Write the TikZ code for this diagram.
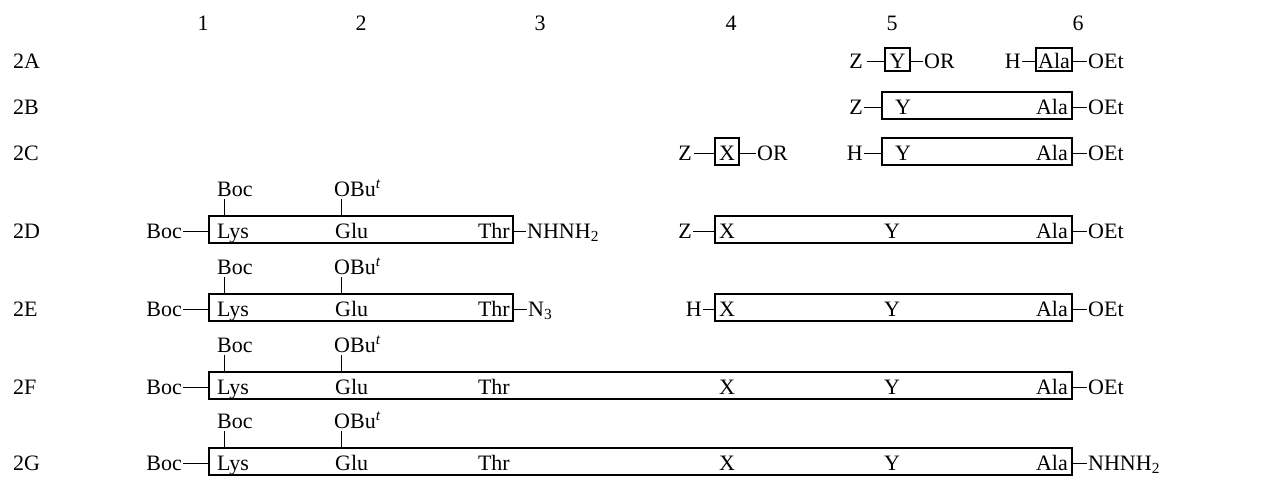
\documentclass[tikz,border=0pt]{standalone}
\usepackage{fontspec}
\setmainfont{Liberation Serif}
\begin{document}
\begin{tikzpicture}[x=1pt,y=-1pt,
  lbl/.style={inner sep=0pt, text height=15pt, text depth=0pt, font=\fontsize{22}{26}\selectfont},
  pbox/.style={draw, line width=1.1pt, inner sep=0pt, minimum height=27pt},
  sbox/.style={pbox, minimum height=23pt},
  bond/.style={line width=1pt},
  tick/.style={line width=0.9pt}]
\useasboundingbox (0,0) rectangle (1261,477);
% column numbers
\node[lbl] (h1) at (203,23) {1};
\node[lbl] (h2) at (361,23) {2};
\node[lbl] (h3) at (540,23) {3};
\node[lbl] (h4) at (731,23) {4};
\node[lbl] (h5) at (892,23) {5};
\node[lbl] (h6) at (1078,23) {6};
% row labels
\node[lbl, anchor=west] (rA) at (13,61) {2A};
\node[lbl, anchor=west] (rB) at (13,107) {2B};
\node[lbl, anchor=west] (rC) at (13,153) {2C};
\node[lbl, anchor=west] (rD) at (13,231) {2D};
\node[lbl, anchor=west] (rE) at (13,309) {2E};
\node[lbl, anchor=west] (rF) at (13,387) {2F};
\node[lbl, anchor=west] (rG) at (13,463) {2G};

% ---------- 2A ----------
\node[lbl, anchor=east] (zA) at (863,61) {Z};
\node[sbox, minimum width=25pt] (bYA) at (897.5,59.5) {};
\node[lbl] (yA) at (897.5,61) {Y};
\node[lbl, anchor=west] (orA) at (924,61) {OR};
\draw[bond] ([xshift=4pt]zA.east) -- (zA.east -| bYA.west);
\draw[bond] (bYA.east |- orA.west) -- ([xshift=-1pt]orA.west);
\node[lbl, anchor=east] (hA) at (1021,61) {H};
\node[sbox, minimum width=36pt] (bAlaA) at (1054,59.5) {};
\node[lbl] (alaA) at (1054,61) {Ala};
\node[lbl, anchor=west] (oetA) at (1088,61) {OEt};
\draw[bond] ([xshift=1pt]hA.east) -- (hA.east -| bAlaA.west);
\draw[bond] (bAlaA.east |- oetA.west) -- ([xshift=-1pt]oetA.west);

% ---------- 2B ----------
\node[lbl, anchor=east] (zB) at (863,107) {Z};
\node[pbox, minimum width=190pt] (bB) at (977,105.5) {};
\node[lbl, anchor=west] (yB) at (895,107) {Y};
\node[lbl, anchor=east] (alaB) at (1068,107) {Ala};
\node[lbl, anchor=west] (oetB) at (1088,107) {OEt};
\draw[bond] ([xshift=1pt]zB.east) -- (zB.east -| bB.west);
\draw[bond] (bB.east |- oetB.west) -- ([xshift=-1pt]oetB.west);

% ---------- 2C ----------
\node[lbl, anchor=east] (zC) at (692,153) {Z};
\node[pbox, minimum width=24pt] (bXC) at (727,151.5) {};
\node[lbl] (xC) at (727,153) {X};
\node[lbl, anchor=west] (orC) at (757,153) {OR};
\draw[bond] ([xshift=2pt]zC.east) -- (zC.east -| bXC.west);
\draw[bond] (bXC.east |- orC.west) -- ([xshift=-1pt]orC.west);
\node[lbl, anchor=east] (hC) at (863,153) {H};
\node[pbox, minimum width=190pt] (bC) at (977,151.5) {};
\node[lbl, anchor=west] (yC) at (895,153) {Y};
\node[lbl, anchor=east] (alaC) at (1068,153) {Ala};
\node[lbl, anchor=west] (oetC) at (1088,153) {OEt};
\draw[bond] ([xshift=1pt]hC.east) -- (hC.east -| bC.west);
\draw[bond] (bC.east |- oetC.west) -- ([xshift=-1pt]oetC.west);

% ---------- 2D ----------
\node[lbl, anchor=east] (bocD) at (182,231) {Boc};
\node[pbox, minimum width=304pt] (bLD) at (361,229.5) {};
\node[lbl, anchor=west] (lysD) at (217,231) {Lys};
\node[lbl, anchor=west] (gluD) at (335,231) {Glu};
\node[lbl, anchor=east] (thrD) at (510,231) {Thr};
\node[lbl, anchor=west] (nhD) at (527,231) {NHNH\textsubscript{2}};
\node[lbl, anchor=west] (ubocD) at (217,189) {Boc};
\node[lbl, anchor=west] (uobD) at (334,189) {OBu\textsuperscript{\itshape t}};
\draw[bond] ([xshift=1pt]bocD.east) -- (bocD.east -| bLD.west);
\draw[bond] (bLD.east |- nhD.west) -- ([xshift=-1pt]nhD.west);
\draw[tick] (224,199) coordinate (tkD1) -- (tkD1 |- bLD.north);
\draw[tick] (341,199) coordinate (tkD2) -- (tkD2 |- bLD.north);
\node[lbl, anchor=east] (zD) at (692,231) {Z};
\node[pbox, minimum width=357pt] (bRD) at (893.5,229.5) {};
\node[lbl, anchor=west] (xD) at (719,231) {X};
\node[lbl] (yD) at (892,231) {Y};
\node[lbl, anchor=east] (alaD) at (1068,231) {Ala};
\node[lbl, anchor=west] (oetD) at (1088,231) {OEt};
\draw[bond] ([xshift=1pt]zD.east) -- (zD.east -| bRD.west);
\draw[bond] (bRD.east |- oetD.west) -- ([xshift=-1pt]oetD.west);

% ---------- 2E ----------
\node[lbl, anchor=east] (bocE) at (182,309) {Boc};
\node[pbox, minimum width=304pt] (bLE) at (361,307.5) {};
\node[lbl, anchor=west] (lysE) at (217,309) {Lys};
\node[lbl, anchor=west] (gluE) at (335,309) {Glu};
\node[lbl, anchor=east] (thrE) at (510,309) {Thr};
\node[lbl, anchor=west] (n3E) at (528,309) {N\textsubscript{3}};
\node[lbl, anchor=west] (ubocE) at (217,267) {Boc};
\node[lbl, anchor=west] (uobE) at (334,267) {OBu\textsuperscript{\itshape t}};
\draw[bond] ([xshift=1pt]bocE.east) -- (bocE.east -| bLE.west);
\draw[bond] (bLE.east |- n3E.west) -- ([xshift=-1pt]n3E.west);
\draw[tick] (224,277) coordinate (tkE1) -- (tkE1 |- bLE.north);
\draw[tick] (341,277) coordinate (tkE2) -- (tkE2 |- bLE.north);
\node[lbl, anchor=east] (hE) at (702,309) {H};
\node[pbox, minimum width=357pt] (bRE) at (893.5,307.5) {};
\node[lbl, anchor=west] (xE) at (719,309) {X};
\node[lbl] (yE) at (892,309) {Y};
\node[lbl, anchor=east] (alaE) at (1068,309) {Ala};
\node[lbl, anchor=west] (oetE) at (1088,309) {OEt};
\draw[bond] ([xshift=1pt]hE.east) -- (hE.east -| bRE.west);
\draw[bond] (bRE.east |- oetE.west) -- ([xshift=-1pt]oetE.west);

% ---------- 2F ----------
\node[lbl, anchor=east] (bocF) at (182,387) {Boc};
\node[pbox, minimum width=863pt] (bF) at (640.5,385.5) {};
\node[lbl, anchor=west] (lysF) at (217,387) {Lys};
\node[lbl, anchor=west] (gluF) at (335,387) {Glu};
\node[lbl, anchor=east] (thrF) at (510,387) {Thr};
\node[lbl, anchor=west] (xF) at (719,387) {X};
\node[lbl] (yF) at (892,387) {Y};
\node[lbl, anchor=east] (alaF) at (1068,387) {Ala};
\node[lbl, anchor=west] (oetF) at (1088,387) {OEt};
\node[lbl, anchor=west] (ubocF) at (217,345) {Boc};
\node[lbl, anchor=west] (uobF) at (334,345) {OBu\textsuperscript{\itshape t}};
\draw[bond] ([xshift=1pt]bocF.east) -- (bocF.east -| bF.west);
\draw[bond] (bF.east |- oetF.west) -- ([xshift=-1pt]oetF.west);
\draw[tick] (224,355) coordinate (tkF1) -- (tkF1 |- bF.north);
\draw[tick] (341,355) coordinate (tkF2) -- (tkF2 |- bF.north);

% ---------- 2G ----------
\node[lbl, anchor=east] (bocG) at (182,463) {Boc};
\node[pbox, minimum width=863pt] (bG) at (640.5,461.5) {};
\node[lbl, anchor=west] (lysG) at (217,463) {Lys};
\node[lbl, anchor=west] (gluG) at (335,463) {Glu};
\node[lbl, anchor=east] (thrG) at (510,463) {Thr};
\node[lbl, anchor=west] (xG) at (719,463) {X};
\node[lbl] (yG) at (892,463) {Y};
\node[lbl, anchor=east] (alaG) at (1068,463) {Ala};
\node[lbl, anchor=west] (nhG) at (1088,463) {NHNH\textsubscript{2}};
\node[lbl, anchor=west] (ubocG) at (217,421) {Boc};
\node[lbl, anchor=west] (uobG) at (334,421) {OBu\textsuperscript{\itshape t}};
\draw[bond] ([xshift=1pt]bocG.east) -- (bocG.east -| bG.west);
\draw[bond] (bG.east |- nhG.west) -- ([xshift=-1pt]nhG.west);
\draw[tick] (224,431) coordinate (tkG1) -- (tkG1 |- bG.north);
\draw[tick] (341,431) coordinate (tkG2) -- (tkG2 |- bG.north);
\end{tikzpicture}
\end{document}
